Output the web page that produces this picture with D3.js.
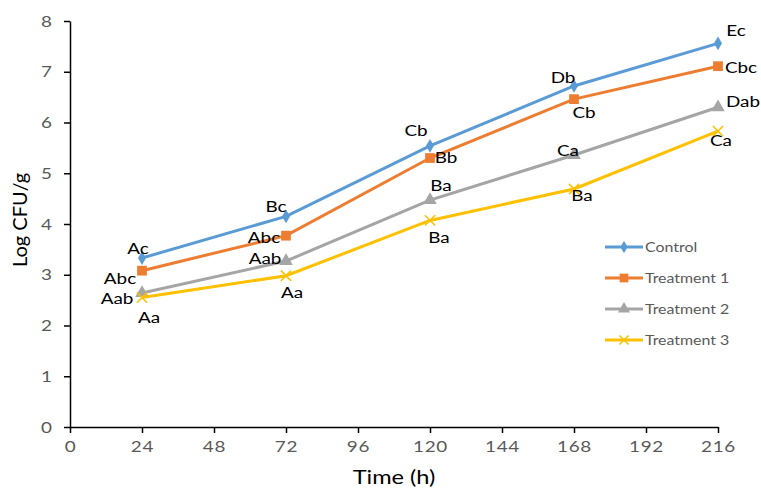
<!DOCTYPE html>
<html>
<head>
<meta charset="utf-8">
<script src="https://cdn.jsdelivr.net/npm/d3@7"></script>
<style>
  body { margin: 0; background: #fff; }
  svg { display: block; }
</style>
</head>
<body>
<div id="chart"></div>
<script>
// data
const times = [24, 72, 120, 168, 216];
const seriesNames = ["Control", "Treatment 1", "Treatment 2", "Treatment 3"];
const control = [3.33, 4.15, 5.54, 6.72, 7.56];
const treatment1 = [3.08, 3.77, 5.30, 6.46, 7.11];
const treatment2 = [2.64, 3.27, 4.47, 5.36, 6.30];
const treatment3 = [2.55, 2.98, 4.07, 4.69, 5.83];
const controlLetters = ["Ac", "Bc", "Cb", "Db", "Ec"];
const treatment1Letters = ["Abc", "Abc", "Bb", "Cb", "Cbc"];
const treatment2Letters = ["Aab", "Aab", "Ba", "Ca", "Dab"];
const treatment3Letters = ["Aa", "Aa", "Ba", "Ba", "Ca"];
const xTicks = [0, 24, 48, 72, 96, 120, 144, 168, 192, 216];
const yTicks = [0, 1, 2, 3, 4, 5, 6, 7, 8];

// label placement (offset from the marker), as in the original figure
const labelOffsets = [
    [[-4, -4], [-10, -4], [-14, -10], [-11, -3], [18, -7]],
    [[-22, 13], [-22, 7], [16, 5], [10, 19], [23, 7]],
    [[-25, 11], [-21, 3], [11, -9], [-6, 1], [25, 0]],
    [[7, 25], [6, 22], [9, 23], [8, 12], [3, 15]]
];

const colors = ["#5B9BD5", "#ED7D31", "#A5A5A5", "#FFC000"];
const symbols = [d3.symbolDiamond, d3.symbolSquare, d3.symbolTriangle, d3.symbolX];
const symbolSizes = [55, 95, 80, 70];

// the original text is a bit wide, so horizontal text gets stretched
const stretch = 1.18;
const fontFamily = "Lato, 'Open Sans', sans-serif";

const values = [control, treatment1, treatment2, treatment3];
const letters = [controlLetters, treatment1Letters, treatment2Letters, treatment3Letters];

const series = seriesNames.map((name, i) => ({
    name: name,
    color: colors[i],
    symbol: symbols[i],
    size: symbolSizes[i],
    points: times.map((t, j) => ({ t: t, v: values[i][j], label: letters[i][j], off: labelOffsets[i][j] }))
}));

const width = 761, height = 490;
const margin = { top: 21, right: 43, bottom: 63, left: 70 };

const svg = d3.select("#chart").append("svg")
    .attr("width", width)
    .attr("height", height)
    .style("font-family", fontFamily);

const x = d3.scaleLinear().domain([0, 216]).range([margin.left, width - margin.right]);
const y = d3.scaleLinear().domain([0, 8]).range([height - margin.bottom, margin.top]);

// axes
const xAxis = svg.append("g")
    .attr("transform", "translate(0," + y(0) + ")")
    .call(d3.axisBottom(x).tickValues(xTicks).tickSizeInner(6).tickSizeOuter(0).tickPadding(8));
const yAxis = svg.append("g")
    .attr("transform", "translate(" + x(0) + ",0)")
    .call(d3.axisLeft(y).tickValues(yTicks).tickSizeInner(6).tickSizeOuter(0).tickPadding(12));

[xAxis, yAxis].forEach(ax => {
    ax.select(".domain").attr("stroke", "#000").attr("stroke-width", 1.5);
    ax.selectAll(".tick line").attr("stroke", "#000").attr("stroke-width", 1.5);
    ax.selectAll(".tick text")
        .attr("fill", "#595959")
        .style("font-size", "16px")
        .style("font-family", fontFamily)
        .attr("transform", "scale(" + stretch + ",1)");
});
xAxis.selectAll(".tick text").style("letter-spacing", "0.6px");
yAxis.selectAll(".tick text").attr("x", -18 / stretch);

// axis titles
svg.append("text")
    .attr("transform", "translate(" + ((x(0) + x(216)) / 2) + ",484) scale(" + stretch + ",1)")
    .attr("text-anchor", "middle")
    .style("font-size", "20px")
    .text("Time (h)");

svg.append("text")
    .attr("transform", "translate(27,220) rotate(-90)")
    .attr("text-anchor", "middle")
    .style("font-size", "20px")
    .text("Log CFU/g");

// lines
const line = d3.line().x(d => x(d.t)).y(d => y(d.v));

const seriesG = svg.selectAll("g.series")
    .data(series)
    .join("g")
    .attr("class", "series");

seriesG.append("path")
    .attr("d", d => line(d.points))
    .attr("fill", "none")
    .attr("stroke", d => d.color)
    .attr("stroke-width", 3);

seriesG.each(function (s) {
    const g = d3.select(this);
    g.selectAll("path.marker")
        .data(s.points)
        .join("path")
        .attr("class", "marker")
        .attr("transform", d => "translate(" + x(d.t) + "," + y(d.v) + ")")
        .attr("d", d3.symbol().type(s.symbol).size(s.size))
        .attr("fill", s.symbol === d3.symbolX ? "none" : s.color)
        .attr("stroke", s.symbol === d3.symbolX ? s.color : "none")
        .attr("stroke-width", 1.5);

    g.selectAll("text.lbl")
        .data(s.points)
        .join("text")
        .attr("class", "lbl")
        .attr("transform", d => "translate(" + (x(d.t) + d.off[0]) + "," + (y(d.v) + d.off[1]) + ") scale(" + stretch + ",1)")
        .attr("text-anchor", "middle")
        .style("font-size", "16px")
        .attr("fill", "#000")
        .text(d => d.label);
});

// legend
const legend = svg.append("g")
    .attr("transform", "translate(605,247)");

const legendItem = legend.selectAll("g")
    .data(series)
    .join("g")
    .attr("transform", (d, i) => "translate(0," + (i * 31) + ")");

legendItem.append("line")
    .attr("x1", 0).attr("x2", 38)
    .attr("stroke", d => d.color)
    .attr("stroke-width", 3);

legendItem.append("path")
    .attr("transform", "translate(19,0)")
    .attr("d", d => d3.symbol().type(d.symbol).size(d.size * 0.8)())
    .attr("fill", d => d.symbol === d3.symbolX ? "none" : d.color)
    .attr("stroke", d => d.symbol === d3.symbolX ? d.color : "none")
    .attr("stroke-width", 1.5);

legendItem.append("text")
    .attr("transform", "translate(40,0) scale(" + stretch + ",1)")
    .attr("dy", "0.35em")
    .attr("fill", "#595959")
    .style("font-size", "13.5px")
    .text(d => d.name);
</script>
</body>
</html>
